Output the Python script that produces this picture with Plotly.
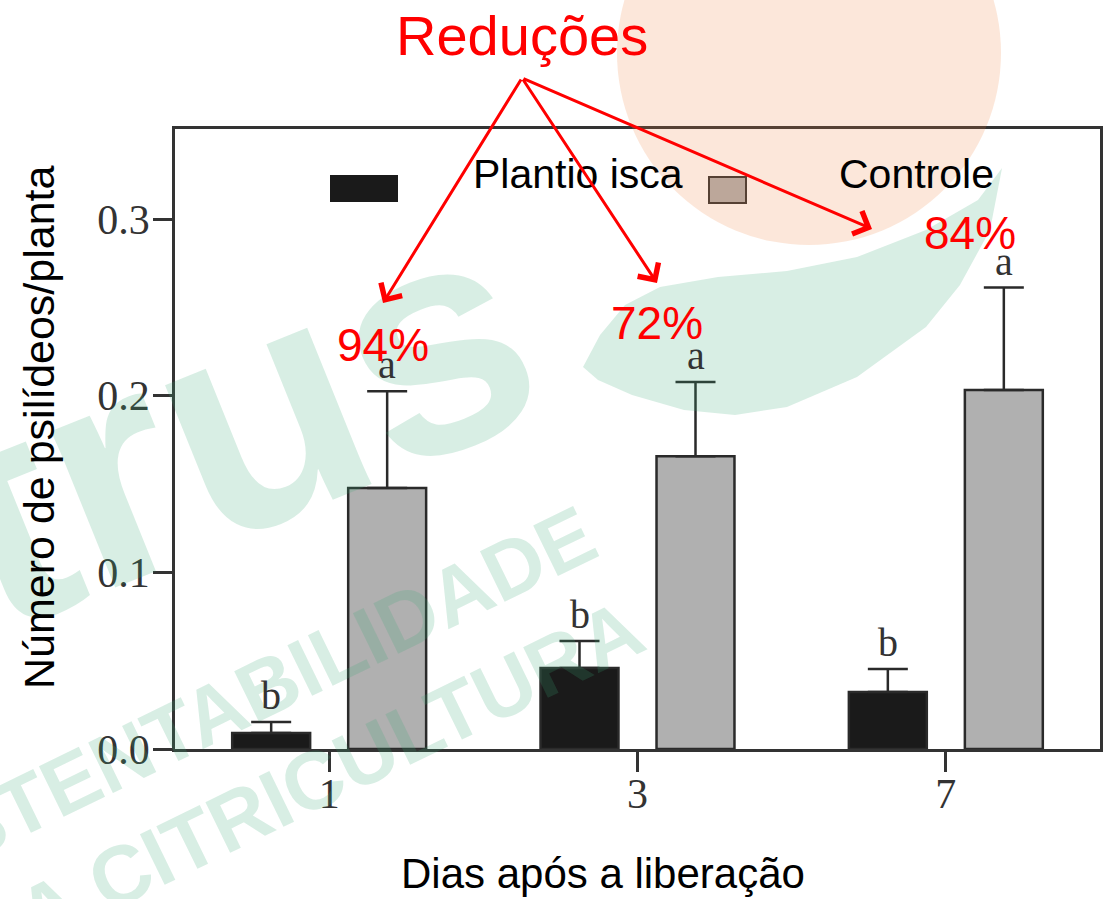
import plotly.graph_objects as go

# ---------------- data ----------------
days = ["1", "3", "7"]
isca_mean = [0.0091, 0.0458, 0.0323]
isca_err = [0.0062, 0.0153, 0.0130]
ctrl_mean = [0.1477, 0.1658, 0.2032]
ctrl_err = [0.0549, 0.0419, 0.0580]
isca_letters = ["b", "b", "b"]
ctrl_letters = ["a", "a", "a"]
reductions = ["94%", "72%", "84%"]
y_tick_vals = [0.0, 0.1, 0.2, 0.3]
y_tick_text = ["0.0", "0.1", "0.2", "0.3"]

# ---------------- geometry helpers (page pixels -> paper) ----------------
FW, FH = 1114, 899
L, T, W, H = 175, 129, 925, 620


def px(x):
    return (x - L) / W


def py(y):
    return (T + H - y) / H


SANS = "Liberation Sans, Arial, sans-serif"
SERIF = "Liberation Serif, Times New Roman, serif"
RED = "#ff0000"
AX = "#333333"
GREEN_WM = "rgba(60,170,120,0.20)"
ORANGE_WM = "rgba(240,130,60,0.19)"

fig = go.Figure()
fig.add_trace(go.Bar(
    name="Plantio isca", x=days, y=isca_mean,
    marker=dict(color="#1a1a1a", line=dict(color="#2a2a2a", width=2.5)),
    error_y=dict(type="data", array=isca_err, arrayminus=[0] * len(days),
                 symmetric=False, color="#2a2a2a", thickness=2.5, width=20),
    showlegend=False,
))
fig.add_trace(go.Bar(
    name="Controle", x=days, y=ctrl_mean,
    marker=dict(color="#b0b0b0", line=dict(color="#2a2a2a", width=2.5)),
    error_y=dict(type="data", array=ctrl_err, arrayminus=[0] * len(days),
                 symmetric=False, color="#2a2a2a", thickness=2.5, width=20),
    showlegend=False,
))

ann = []
# watermark text (semi-transparent overlay)
ann.append(dict(x=px(110), y=py(470), xref="paper", yref="paper", text="<b>citrus</b>",
                showarrow=False, textangle=-22, xanchor="center", yanchor="middle",
                font=dict(family=SANS, size=320, color=GREEN_WM)))
ann.append(dict(x=px(219), y=py(709), xref="paper", yref="paper", text="<b>SUSTENTABILIDADE</b>",
                showarrow=False, textangle=-26, xanchor="center", yanchor="middle",
                font=dict(family=SANS, size=82, color=GREEN_WM)))
ann.append(dict(x=px(303), y=py(785), xref="paper", yref="paper", text="<b>NA CITRICULTURA</b>",
                showarrow=False, textangle=-26, xanchor="center", yanchor="middle",
                font=dict(family=SANS, size=82, color=GREEN_WM)))

# significance letters (category positions given by index)
for i, (m, e, t) in enumerate(zip(isca_mean, isca_err, isca_letters)):
    ann.append(dict(x=i, y=m + e, xref="x", yref="y", xshift=-58, yshift=2,
                    text=t, showarrow=False, yanchor="bottom",
                    font=dict(family=SERIF, size=40, color="#333333")))
for i, (m, e, t) in enumerate(zip(ctrl_mean, ctrl_err, ctrl_letters)):
    ann.append(dict(x=i, y=m + e, xref="x", yref="y", xshift=58, yshift=2,
                    text=t, showarrow=False, yanchor="bottom",
                    font=dict(family=SERIF, size=40, color="#333333")))

# legend texts
ann.append(dict(x=px(578), y=py(174), xref="paper", yref="paper", text="Plantio isca",
                showarrow=False, xanchor="center", yanchor="middle",
                font=dict(family=SANS, size=41, color="#000000")))
ann.append(dict(x=px(916), y=py(174), xref="paper", yref="paper", text="Controle",
                showarrow=False, xanchor="center", yanchor="middle",
                font=dict(family=SANS, size=41, color="#000000")))

# axis titles (placed as in the reference, slightly off-centre)
ann.append(dict(x=px(603), y=py(873), xref="paper", yref="paper", text="Dias após a liberação",
                showarrow=False, xanchor="center", yanchor="middle",
                font=dict(family=SANS, size=42, color="#000000")))
ann.append(dict(x=px(39), y=py(427), xref="paper", yref="paper", text="Número de psilídeos/planta",
                showarrow=False, textangle=-90, xanchor="center", yanchor="middle",
                font=dict(family=SANS, size=43, color="#000000")))

# title and arrows
ann.append(dict(x=px(522), y=py(35), xref="paper", yref="paper", text="Reduções",
                showarrow=False, xanchor="center", yanchor="middle",
                font=dict(family=SANS, size=56, color=RED)))
tail = (522, 78)
heads = [(383, 303), (657, 283), (872, 229)]
for hx, hy in heads:
    ann.append(dict(x=px(hx), y=py(hy), xref="paper", yref="paper", text="",
                    showarrow=True, ax=tail[0] - hx, ay=tail[1] - hy,
                    arrowhead=4, arrowsize=1.6, arrowwidth=3, arrowcolor=RED,
                    standoff=0, startstandoff=0))
label_pos = [(383, 345), (657, 323), (970, 233)]
for (lx, ly), t in zip(label_pos, reductions):
    ann.append(dict(x=px(lx), y=py(ly), xref="paper", yref="paper", text=t,
                    showarrow=False, xanchor="center", yanchor="middle",
                    font=dict(family=SANS, size=46, color=RED)))

shapes = [
    # legend swatches
    dict(type="rect", xref="paper", yref="paper", x0=px(330), x1=px(398), y0=py(202), y1=py(175),
         fillcolor="#1a1a1a", line=dict(width=0), layer="above"),
    dict(type="rect", xref="paper", yref="paper", x0=px(709), x1=px(746), y0=py(203), y1=py(177),
         fillcolor="#b0b0b0", line=dict(color="#333333", width=2), layer="above"),
    # orange circle watermark
    dict(type="circle", xref="paper", yref="paper", x0=px(617), x1=px(1001), y0=py(245), y1=py(-139),
         fillcolor=ORANGE_WM, line=dict(width=0), layer="above"),
]
# green swoosh watermark (leaf shape)
sw_top = [(583, 367), (600, 335), (625, 305), (660, 287), (718, 277), (787, 271), (857, 257),
          (926, 230), (978, 200), (1002, 168)]
sw_bot = [(990, 230), (960, 285), (926, 327), (857, 377), (787, 407), (735, 415), (684, 410),
          (632, 395), (598, 380)]
pts = sw_top + sw_bot
path = "M " + " L ".join(f"{px(x):.4f},{py(y):.4f}" for x, y in pts) + " Z"
shapes.append(dict(type="path", xref="paper", yref="paper", path=path,
                   fillcolor=GREEN_WM, line=dict(width=0), layer="above"))

fig.update_layout(
    width=FW, height=FH,
    margin=dict(l=L, r=FW - L - W, t=T, b=FH - T - H, autoexpand=False),
    paper_bgcolor="white", plot_bgcolor="rgba(0,0,0,0)",
    barmode="group", bargap=0.2476, bargroupgap=0.328,
    annotations=ann, shapes=shapes,
    font=dict(family=SANS, color="#000000"),
)
fig.update_xaxes(
    type="category", range=[-0.5, 2.5],
    showline=True, linecolor=AX, linewidth=2.5, mirror=True,
    ticks="outside", ticklen=20, tickwidth=2.5, tickcolor=AX,
    tickfont=dict(family=SERIF, size=42, color="#333333"), ticklabelstandoff=-14,
    showgrid=False, zeroline=False,
)
fig.update_yaxes(
    range=[0, 0.351], tickvals=y_tick_vals, ticktext=y_tick_text,
    showline=True, linecolor=AX, linewidth=2.5, mirror=True,
    ticks="outside", ticklen=19, tickwidth=2.5, tickcolor=AX,
    tickfont=dict(family=SERIF, size=42, color="#333333"), ticklabelstandoff=-5,
    showgrid=False, zeroline=False,
)

fig.write_html("out.html", config={"displayModeBar": False},
               post_script="document.body.style.margin='0';document.body.style.overflow='hidden';")
